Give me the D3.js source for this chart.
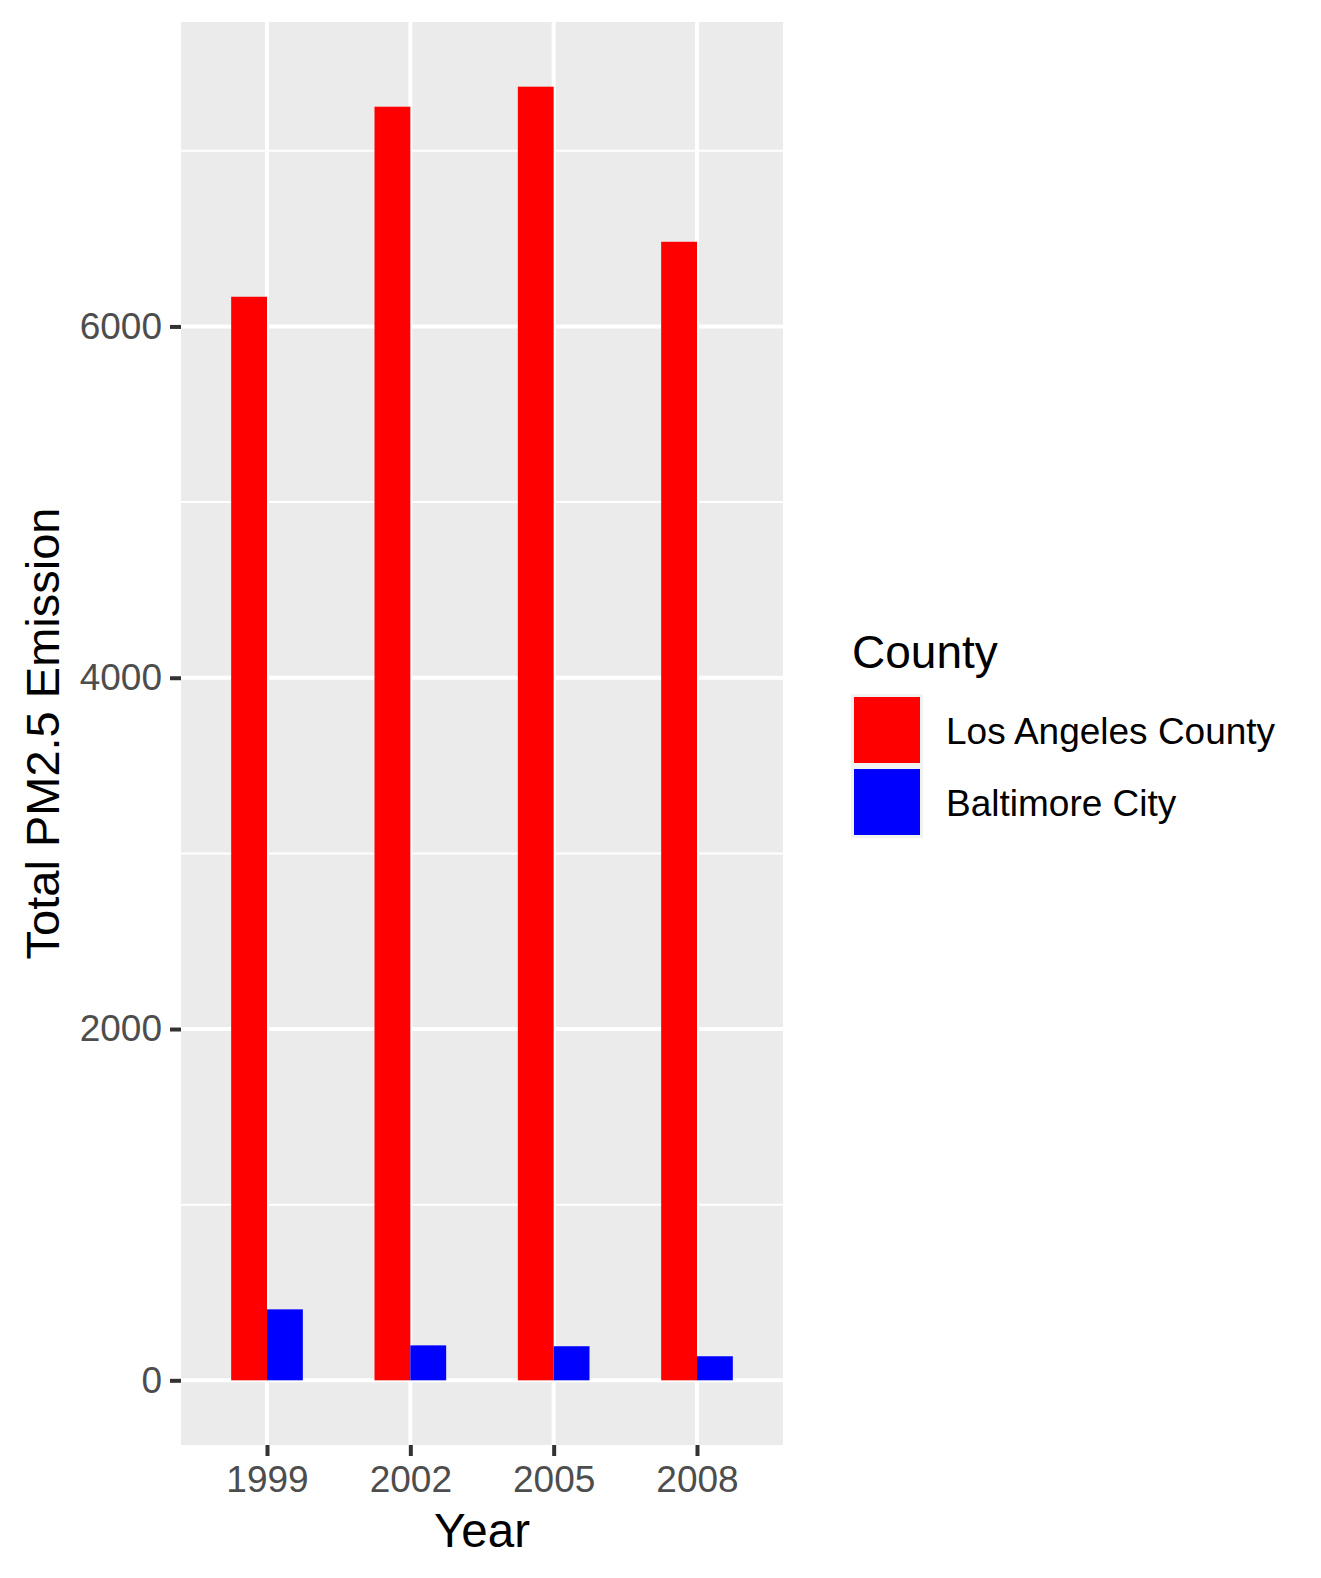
<!DOCTYPE html>
<html>
<head>
<meta charset="utf-8">
<script src="https://cdn.jsdelivr.net/npm/d3@7"></script>
<style>
  html, body { margin: 0; padding: 0; background: #ffffff; }
  svg { display: block; font-family: "Liberation Sans", Arial, sans-serif; }
</style>
</head>
<body>
<svg id="chart" width="1321" height="1578"></svg>
<script>
const years = ["1999", "2002", "2005", "2008"];
const counties = ["Los Angeles County", "Baltimore City"];
const laValues = [6169, 7251, 7365, 6482];
const baltimoreValues = [404, 199, 194, 137];
const countyColors = ["#FF0000", "#0000FF"];
const yTicks = [0, 2000, 4000, 6000];
const yMinorTicks = [1000, 3000, 5000, 7000];

const seriesValues = [laValues, baltimoreValues];
const data = [];
years.forEach((yr, i) => {
  counties.forEach((c, j) => data.push({ year: yr, county: c, value: seriesValues[j][i] }));
});

const svg = d3.select("#chart");
const panel = { left: 181, right: 783, top: 22, bottom: 1445 };

// discrete x with ggplot-style 0.6 expansion
const x = d3.scalePoint().domain(years).range([panel.left, panel.right]).padding(0.6);
const step = x.step();
const barGroupW = step * 0.5;
const xSub = d3.scaleBand().domain(counties).range([0, barGroupW]).padding(0);

const yMax = d3.max(data, d => d.value);
const y = d3.scaleLinear().domain([-0.05 * yMax, yMax * 1.05]).range([panel.bottom, panel.top]);
const color = d3.scaleOrdinal().domain(counties).range(countyColors);

// panel background
svg.append("rect")
  .attr("x", panel.left).attr("y", panel.top)
  .attr("width", panel.right - panel.left).attr("height", panel.bottom - panel.top)
  .attr("fill", "#EBEBEB");

// minor gridlines
svg.append("g").selectAll("line").data(yMinorTicks).join("line")
  .attr("x1", panel.left).attr("x2", panel.right)
  .attr("y1", d => y(d)).attr("y2", d => y(d))
  .attr("stroke", "#FFFFFF").attr("stroke-width", 2);

// major gridlines
svg.append("g").selectAll("line").data(yTicks).join("line")
  .attr("x1", panel.left).attr("x2", panel.right)
  .attr("y1", d => y(d)).attr("y2", d => y(d))
  .attr("stroke", "#FFFFFF").attr("stroke-width", 4);
svg.append("g").selectAll("line").data(years).join("line")
  .attr("x1", d => x(d)).attr("x2", d => x(d))
  .attr("y1", panel.top).attr("y2", panel.bottom)
  .attr("stroke", "#FFFFFF").attr("stroke-width", 4);

// bars
svg.append("g").selectAll("rect").data(data).join("rect")
  .attr("x", d => x(d.year) - barGroupW / 2 + xSub(d.county))
  .attr("width", xSub.bandwidth())
  .attr("y", d => y(d.value))
  .attr("height", d => y(0) - y(d.value))
  .attr("fill", d => color(d.county));

// y axis
const yAxis = d3.axisLeft(y).tickValues(yTicks).tickSize(11).tickPadding(8).tickFormat(d3.format("d"));
const gy = svg.append("g").attr("transform", `translate(${panel.left},0)`).call(yAxis);
gy.select(".domain").remove();
gy.selectAll(".tick line").attr("stroke", "#333333").attr("stroke-width", 4);
gy.selectAll(".tick text").attr("fill", "#4D4D4D").style("font-size", "37px")
  .style("font-family", "'Liberation Sans', Arial, sans-serif");

// x axis
const xAxis = d3.axisBottom(x).tickSize(11).tickPadding(10);
const gx = svg.append("g").attr("transform", `translate(0,${panel.bottom})`).call(xAxis);
gx.select(".domain").remove();
gx.selectAll(".tick line").attr("stroke", "#333333").attr("stroke-width", 4);
gx.selectAll(".tick text").attr("fill", "#4D4D4D").style("font-size", "37px")
  .style("font-family", "'Liberation Sans', Arial, sans-serif");

// axis titles
svg.append("text")
  .attr("x", (panel.left + panel.right) / 2).attr("y", 1547)
  .attr("text-anchor", "middle").attr("fill", "#000000")
  .style("font-size", "47.5px").text("Year");
svg.append("text")
  .attr("transform", `translate(59,${(panel.top + panel.bottom) / 2}) rotate(-90)`)
  .attr("text-anchor", "middle").attr("fill", "#000000")
  .style("font-size", "47px").text("Total PM2.5 Emission");

// legend
const legend = svg.append("g").attr("transform", "translate(851,0)");
legend.append("text").attr("x", 1).attr("y", 668).attr("fill", "#000000")
  .style("font-size", "46px").text("County");
const keySize = 72;
const keys = legend.selectAll("g.key").data(counties).join("g")
  .attr("class", "key")
  .attr("transform", (d, i) => `translate(0,${694 + i * keySize})`);
keys.append("rect").attr("width", keySize).attr("height", keySize).attr("fill", "#F2F2F2");
keys.append("rect").attr("x", 3).attr("y", 3)
  .attr("width", keySize - 6).attr("height", keySize - 6)
  .attr("fill", d => color(d));
keys.append("text").attr("x", 95).attr("y", keySize / 2 + 14)
  .attr("fill", "#000000").style("font-size", "37px").text(d => d);
</script>
</body>
</html>
